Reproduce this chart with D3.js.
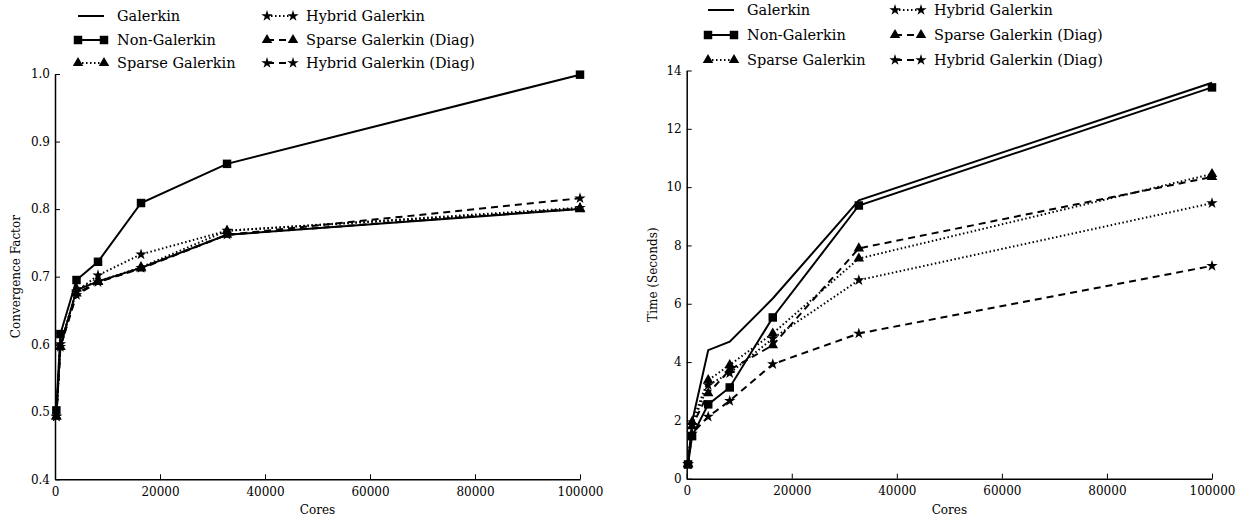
<!DOCTYPE html>
<html><head><meta charset="utf-8">
<script src="https://cdn.jsdelivr.net/npm/d3@7"></script>
<style>body{margin:0;background:#fff;}</style></head>
<body><svg id="c" width="1251" height="521"></svg>
<script>
// ---- data ----
const cores = [256, 1024, 4096, 8192, 16384, 32768, 100000];
const seriesNames = ["Galerkin","Non-Galerkin","Sparse Galerkin","Hybrid Galerkin","Sparse Galerkin (Diag)","Hybrid Galerkin (Diag)"];
// convergence factor (left panel)
const convGalerkin      = [0.495, 0.598, 0.680, 0.693, 0.713, 0.762, 0.800];
const convNonGalerkin   = [0.502, 0.615, 0.695, 0.722, 0.809, 0.867, 0.999];
const convSparse        = [0.493, 0.596, 0.682, 0.693, 0.714, 0.768, 0.800];
const convHybrid        = [0.493, 0.600, 0.678, 0.702, 0.733, 0.768, 0.802];
const convSparseDiag    = [0.493, 0.596, 0.675, 0.692, 0.712, 0.762, 0.801];
const convHybridDiag    = [0.493, 0.596, 0.673, 0.692, 0.713, 0.762, 0.816];
// time in seconds (right panel)
const timeGalerkin      = [0.50, 1.95, 4.41, 4.70, 6.18, 9.55, 13.58];
const timeNonGalerkin   = [0.49, 1.46, 2.55, 3.13, 5.53, 9.37, 13.42];
const timeSparse        = [0.50, 1.95, 3.38, 3.90, 4.98, 7.55, 10.45];
const timeHybrid        = [0.50, 1.85, 3.21, 3.62, 4.81, 6.81, 9.45];
const timeSparseDiag    = [0.50, 1.80, 2.93, 3.73, 4.58, 7.90, 10.35];
const timeHybridDiag    = [0.50, 1.55, 2.13, 2.67, 3.93, 4.98, 7.30];
const xTicks = [0, 20000, 40000, 60000, 80000, 100000];
const convTicks = [0.4, 0.5, 0.6, 0.7, 0.8, 0.9, 1.0];
const timeTicks = [0, 2, 4, 6, 8, 10, 12, 14];

// ---- styles ----
const styles = [
  {dash:null, marker:null},
  {dash:null, marker:"square"},
  {dash:"1.5,2.5", marker:"triangle"},
  {dash:"1.5,2.5", marker:"star"},
  {dash:"7,5", marker:"triangle"},
  {dash:"7,5", marker:"star"}
];
function symFor(m){
  if(m==="square") return d3.symbol().type(d3.symbolSquare).size(72)();
  if(m==="triangle") return d3.symbol().type(d3.symbolTriangle).size(48)();
  if(m==="star") return d3.symbol().type(d3.symbolStar).size(40)();
  return null;
}

const FONT = "DejaVu Serif";
const svg = d3.select("#c");

function panel(o){
  const g = svg.append("g").attr("font-family",FONT);
  const x = d3.scaleLinear().domain([0,100000]).range([o.x0,o.x1]);
  const y = d3.scaleLinear().domain(o.ydom).range([o.y1,o.y0]);
  const xa = g.append("g").attr("transform",`translate(0,${o.y1})`)
    .call(d3.axisBottom(x).tickValues(xTicks).tickFormat(d3.format("d")).tickSizeInner(-5).tickSizeOuter(0).tickPadding(8));
  const ya = g.append("g").attr("transform",`translate(${o.x0},0)`)
    .call(d3.axisLeft(y).tickValues(o.yticks).tickFormat(o.yfmt).tickSizeInner(-5).tickSizeOuter(0).tickPadding(5));
  [xa,ya].forEach(a=>{
    a.attr("font-family",FONT).attr("font-size",12);
    a.select(".domain").attr("stroke","#000").attr("stroke-width",1.5);
    a.selectAll(".tick line").attr("stroke","#000").attr("stroke-width",1);
    a.selectAll(".tick text").attr("font-family",FONT).attr("font-size",12).attr("fill","#000");
  });
  g.append("text").attr("x",(o.x0+o.x1)/2).attr("y",o.y1+35).attr("text-anchor","middle")
    .attr("font-family",FONT).attr("font-size",12).text("Cores");
  g.append("text").attr("transform",`translate(${o.ylabX},${(o.y0+o.y1)/2}) rotate(-90)`)
    .attr("text-anchor","middle").attr("dominant-baseline","central")
    .attr("font-family",FONT).attr("font-size",12).text(o.ylabel);
  const line = d3.line().x((d,i)=>x(cores[i])).y(d=>y(d));
  o.series.forEach((s,k)=>{
    const st = styles[k];
    g.append("path").datum(s).attr("d",line).attr("fill","none").attr("stroke","#000")
      .attr("stroke-width",2).attr("stroke-dasharray",st.dash).attr("stroke-linejoin","miter");
    if(st.marker){
      g.selectAll(null).data(s).enter().append("path")
        .attr("d",symFor(st.marker))
        .attr("transform",(d,i)=>`translate(${x(cores[i])},${y(d)})`)
        .attr("fill","#000");
    }
  });
  const lg = g.append("g");
  seriesNames.forEach((n,k)=>{
    const col = k<3?0:1, row = k%3;
    const hx = o.leg.cols[col], hy = o.leg.rows[row];
    const st = styles[k];
    lg.append("line").attr("x1",hx).attr("x2",hx+26).attr("y1",hy).attr("y2",hy)
      .attr("stroke","#000").attr("stroke-width",2).attr("stroke-dasharray",st.dash);
    if(st.marker){
      [hx,hx+26].forEach(px=>lg.append("path").attr("d",symFor(st.marker))
        .attr("transform",`translate(${px},${hy})`).attr("fill","#000"));
    }
    lg.append("text").attr("x",hx+39).attr("y",hy).attr("dominant-baseline","central")
      .attr("font-family",FONT).attr("font-size",14.5).text(n);
  });
}

panel({x0:55,x1:580,y0:74,y1:479.3,ydom:[0.4,1.0],yticks:convTicks,yfmt:d3.format(".1f"),
  ylabel:"Convergence Factor",ylabX:16,
  series:[convGalerkin,convNonGalerkin,convSparse,convHybrid,convSparseDiag,convHybridDiag],
  leg:{cols:[78,267],rows:[16,40,63]}});
panel({x0:686.7,x1:1212,y0:70.5,y1:478.7,ydom:[0,14],yticks:timeTicks,yfmt:d3.format("d"),
  ylabel:"Time (Seconds)",ylabX:653,
  series:[timeGalerkin,timeNonGalerkin,timeSparse,timeHybrid,timeSparseDiag,timeHybridDiag],
  leg:{cols:[708,895],rows:[10,35,60]}});
</script></body></html>
